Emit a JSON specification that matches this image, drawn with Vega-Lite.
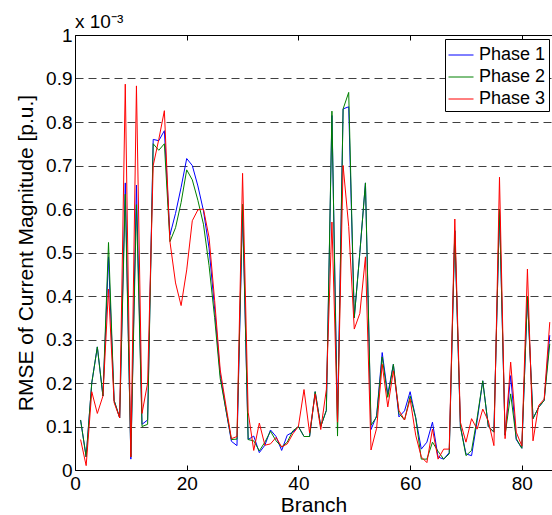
{
  "$schema": "https://vega.github.io/schema/vega-lite/v6.json",
  "width": 477,
  "height": 435,
  "autosize": {"type": "none"},
  "padding": {"left": 75, "top": 35, "right": 0, "bottom": 45},
  "background": "white",
  "config": {"font": "Liberation Sans", "view": {"stroke": null}},
  "title": {"text": "x 10⁻³", "anchor": "start", "frame": "group", "fontSize": 19, "fontWeight": "normal", "color": "black", "offset": -6},
  "data": {"values": [
    {"b":1,"Phase 1":0.115,"Phase 2":0.115,"Phase 3":0.07},
    {"b":2,"Phase 1":0.03,"Phase 2":0.03,"Phase 3":0.01},
    {"b":3,"Phase 1":0.2,"Phase 2":0.2,"Phase 3":0.18},
    {"b":4,"Phase 1":0.283,"Phase 2":0.283,"Phase 3":0.13},
    {"b":5,"Phase 1":0.17,"Phase 2":0.17,"Phase 3":0.17},
    {"b":6,"Phase 1":0.49,"Phase 2":0.523,"Phase 3":0.416},
    {"b":7,"Phase 1":0.16,"Phase 2":0.16,"Phase 3":0.155},
    {"b":8,"Phase 1":0.12,"Phase 2":0.12,"Phase 3":0.12},
    {"b":9,"Phase 1":0.66,"Phase 2":0.634,"Phase 3":0.887},
    {"b":10,"Phase 1":0.025,"Phase 2":0.03,"Phase 3":0.03},
    {"b":11,"Phase 1":0.655,"Phase 2":0.61,"Phase 3":0.883},
    {"b":12,"Phase 1":0.105,"Phase 2":0.1,"Phase 3":0.13},
    {"b":13,"Phase 1":0.115,"Phase 2":0.105,"Phase 3":0.2},
    {"b":14,"Phase 1":0.76,"Phase 2":0.75,"Phase 3":0.7},
    {"b":15,"Phase 1":0.757,"Phase 2":0.735,"Phase 3":0.76},
    {"b":16,"Phase 1":0.78,"Phase 2":0.75,"Phase 3":0.826},
    {"b":17,"Phase 1":0.54,"Phase 2":0.525,"Phase 3":0.525},
    {"b":18,"Phase 1":0.59,"Phase 2":0.557,"Phase 3":0.43},
    {"b":19,"Phase 1":0.65,"Phase 2":0.615,"Phase 3":0.378},
    {"b":20,"Phase 1":0.716,"Phase 2":0.69,"Phase 3":0.46},
    {"b":21,"Phase 1":0.7,"Phase 2":0.667,"Phase 3":0.573},
    {"b":22,"Phase 1":0.653,"Phase 2":0.62,"Phase 3":0.598},
    {"b":23,"Phase 1":0.596,"Phase 2":0.565,"Phase 3":0.6},
    {"b":24,"Phase 1":0.51,"Phase 2":0.47,"Phase 3":0.535},
    {"b":25,"Phase 1":0.37,"Phase 2":0.35,"Phase 3":0.39},
    {"b":26,"Phase 1":0.22,"Phase 2":0.21,"Phase 3":0.23},
    {"b":27,"Phase 1":0.14,"Phase 2":0.14,"Phase 3":0.15},
    {"b":28,"Phase 1":0.066,"Phase 2":0.07,"Phase 3":0.072},
    {"b":29,"Phase 1":0.056,"Phase 2":0.071,"Phase 3":0.077},
    {"b":30,"Phase 1":0.6,"Phase 2":0.611,"Phase 3":0.682},
    {"b":31,"Phase 1":0.07,"Phase 2":0.07,"Phase 3":0.133},
    {"b":32,"Phase 1":0.078,"Phase 2":0.067,"Phase 3":0.045},
    {"b":33,"Phase 1":0.04,"Phase 2":0.044,"Phase 3":0.108},
    {"b":34,"Phase 1":0.057,"Phase 2":0.064,"Phase 3":0.057},
    {"b":35,"Phase 1":0.092,"Phase 2":0.089,"Phase 3":0.06},
    {"b":36,"Phase 1":0.077,"Phase 2":0.067,"Phase 3":0.075},
    {"b":37,"Phase 1":0.045,"Phase 2":0.053,"Phase 3":0.053},
    {"b":38,"Phase 1":0.08,"Phase 2":0.064,"Phase 3":0.06},
    {"b":39,"Phase 1":0.087,"Phase 2":0.09,"Phase 3":0.083},
    {"b":40,"Phase 1":0.1,"Phase 2":0.1,"Phase 3":0.1},
    {"b":41,"Phase 1":0.077,"Phase 2":0.077,"Phase 3":0.185},
    {"b":42,"Phase 1":0.077,"Phase 2":0.077,"Phase 3":0.085},
    {"b":43,"Phase 1":0.18,"Phase 2":0.18,"Phase 3":0.175},
    {"b":44,"Phase 1":0.1,"Phase 2":0.1,"Phase 3":0.093},
    {"b":45,"Phase 1":0.137,"Phase 2":0.137,"Phase 3":0.185},
    {"b":46,"Phase 1":0.815,"Phase 2":0.825,"Phase 3":0.57},
    {"b":47,"Phase 1":0.11,"Phase 2":0.078,"Phase 3":0.11},
    {"b":48,"Phase 1":0.83,"Phase 2":0.83,"Phase 3":0.7},
    {"b":49,"Phase 1":0.835,"Phase 2":0.868,"Phase 3":0.56},
    {"b":50,"Phase 1":0.35,"Phase 2":0.35,"Phase 3":0.324},
    {"b":51,"Phase 1":0.5,"Phase 2":0.5,"Phase 3":0.36},
    {"b":52,"Phase 1":0.66,"Phase 2":0.66,"Phase 3":0.49},
    {"b":53,"Phase 1":0.093,"Phase 2":0.103,"Phase 3":0.046},
    {"b":54,"Phase 1":0.125,"Phase 2":0.122,"Phase 3":0.096},
    {"b":55,"Phase 1":0.27,"Phase 2":0.26,"Phase 3":0.243},
    {"b":56,"Phase 1":0.174,"Phase 2":0.167,"Phase 3":0.145},
    {"b":57,"Phase 1":0.243,"Phase 2":0.243,"Phase 3":0.228},
    {"b":58,"Phase 1":0.122,"Phase 2":0.13,"Phase 3":0.137},
    {"b":59,"Phase 1":0.136,"Phase 2":0.115,"Phase 3":0.115},
    {"b":60,"Phase 1":0.18,"Phase 2":0.17,"Phase 3":0.163},
    {"b":61,"Phase 1":0.12,"Phase 2":0.12,"Phase 3":0.08},
    {"b":62,"Phase 1":0.048,"Phase 2":0.025,"Phase 3":0.03},
    {"b":63,"Phase 1":0.064,"Phase 2":0.025,"Phase 3":0.017},
    {"b":64,"Phase 1":0.11,"Phase 2":0.064,"Phase 3":0.094},
    {"b":65,"Phase 1":0.03,"Phase 2":0.043,"Phase 3":0.025},
    {"b":66,"Phase 1":0.025,"Phase 2":0.025,"Phase 3":0.048},
    {"b":67,"Phase 1":0.04,"Phase 2":0.037,"Phase 3":0.048},
    {"b":68,"Phase 1":0.55,"Phase 2":0.55,"Phase 3":0.577},
    {"b":69,"Phase 1":0.1,"Phase 2":0.1,"Phase 3":0.11},
    {"b":70,"Phase 1":0.037,"Phase 2":0.033,"Phase 3":0.064},
    {"b":71,"Phase 1":0.033,"Phase 2":0.045,"Phase 3":0.118},
    {"b":72,"Phase 1":0.113,"Phase 2":0.12,"Phase 3":0.094},
    {"b":73,"Phase 1":0.205,"Phase 2":0.205,"Phase 3":0.14},
    {"b":74,"Phase 1":0.1,"Phase 2":0.1,"Phase 3":0.113},
    {"b":75,"Phase 1":0.087,"Phase 2":0.087,"Phase 3":0.056},
    {"b":76,"Phase 1":0.6,"Phase 2":0.6,"Phase 3":0.673},
    {"b":77,"Phase 1":0.08,"Phase 2":0.08,"Phase 3":0.072},
    {"b":78,"Phase 1":0.217,"Phase 2":0.175,"Phase 3":0.248},
    {"b":79,"Phase 1":0.07,"Phase 2":0.072,"Phase 3":0.087},
    {"b":80,"Phase 1":0.05,"Phase 2":0.05,"Phase 3":0.055},
    {"b":81,"Phase 1":0.4,"Phase 2":0.4,"Phase 3":0.462},
    {"b":82,"Phase 1":0.118,"Phase 2":0.118,"Phase 3":0.067},
    {"b":83,"Phase 1":0.144,"Phase 2":0.144,"Phase 3":0.148},
    {"b":84,"Phase 1":0.16,"Phase 2":0.16,"Phase 3":0.163},
    {"b":85,"Phase 1":0.31,"Phase 2":0.29,"Phase 3":0.34}
  ]},
  "transform": [{"fold": ["Phase 1", "Phase 2", "Phase 3"], "as": ["phase", "value"]}],
  "layer": [
    {
      "mark": {"type": "line", "strokeWidth": 1, "clip": true},
      "encoding": {
        "x": {"field": "b", "type": "quantitative",
          "scale": {"domain": [0, 85.4], "nice": false, "zero": false},
          "axis": {"orient": "bottom", "title": "Branch", "values": [0, 20, 40, 60, 80], "grid": false,
            "domainColor": "black", "domainWidth": 1, "tickColor": "black", "tickSize": -5, "labelPadding": 9,
            "labelFontSize": 19, "labelColor": "black", "labelFlush": false, "titleFontSize": 21,
            "titleFontWeight": "normal", "titleColor": "black", "titlePadding": 1}},
        "y": {"field": "value", "type": "quantitative",
          "scale": {"domain": [0, 1], "nice": false, "zero": true},
          "axis": {"title": "RMSE of Current Magnitude [p.u.]", "values": [0, 0.1, 0.2, 0.3, 0.4, 0.5, 0.6, 0.7, 0.8, 0.9, 1],
            "labelExpr": "format(datum.value, '.1~f')", "grid": true, "gridColor": "black", "gridOpacity": 0.75,
            "gridDash": [8, 5], "gridWidth": 1, "domainColor": "black", "domainWidth": 1, "ticks": false,
            "labelPadding": 3, "labelFontSize": 19, "labelColor": "black", "labelFlush": false,
            "titleFontSize": 21, "titleFontWeight": "normal", "titleColor": "black", "titlePadding": 9}},
        "color": {"field": "phase", "type": "nominal",
          "scale": {"domain": ["Phase 1", "Phase 2", "Phase 3"], "range": ["#0000ff", "#008000", "#ff0000"]},
          "legend": {"title": null, "orient": "none", "legendX": 370, "legendY": 4, "strokeColor": "black", "fillColor": "white",
            "padding": 3, "symbolType": "stroke", "symbolSize": 625, "symbolStrokeWidth": 1,
            "labelFontSize": 18, "labelColor": "black", "labelOffset": 5, "rowPadding": -1.5}}
      }
    },
    {
      "mark": {"type": "point", "opacity": 0},
      "encoding": {
        "x": {"field": "b", "type": "quantitative",
          "axis": {"orient": "top", "title": null, "labels": false, "values": [0, 20, 40, 60, 80], "grid": false,
            "domainColor": "black", "domainWidth": 1, "tickColor": "black", "tickSize": -5}}
      }
    }
  ],
  "resolve": {"axis": {"x": "independent"}}
}
